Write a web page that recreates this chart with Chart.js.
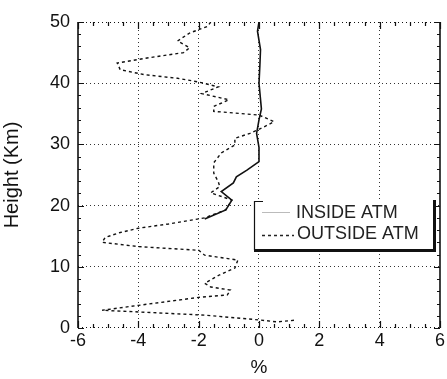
<!DOCTYPE html>
<html><head><meta charset="utf-8">
<script src="https://cdn.jsdelivr.net/npm/chart.js@4/dist/chart.umd.min.js"></script>
<style>html,body{margin:0;padding:0;background:#fff}#wrap{width:447px;height:379px}</style>
</head><body><div id="wrap"><canvas id="c" width="447" height="379"></canvas></div>
<script>
// Series: OUTSIDE ATM (dashed)
const outsideHeight = [50,49.3,48.2,46.9,45.8,45.0,44.2,43.3,42.2,41.4,40.8,40.2,39.4,38.3,37.3,36.2,35.4,34.8,33.7,32.7,31.8,31.0,29.9,28.6,27.0,25.3,23.9,23.1,22.1,20.9,19.3,18.0,17.0,16.3,15.6,14.8,14.0,13.3,12.7,11.9,11.1,9.8,8.7,7.3,6.7,6.2,5.4,5.0,3.7,2.9,2.6,2.1,1.3,1.0,1.3];
const outsideValue  = [-1.6,-1.7,-2.3,-2.7,-2.3,-2.5,-3.6,-4.7,-4.6,-3.8,-2.7,-2.0,-1.35,-1.9,-1.0,-1.5,-1.5,0.0,0.5,0.1,-0.3,-0.8,-0.8,-1.25,-1.5,-1.5,-1.35,-1.3,-1.6,-0.9,-1.1,-1.8,-3.0,-4.0,-4.6,-5.1,-5.2,-4.0,-2.0,-1.8,-0.7,-0.8,-1.3,-1.8,-1.6,-0.95,-1.05,-2.0,-4.0,-5.2,-3.9,-1.8,0.05,0.6,1.25];
// Series: INSIDE ATM (solid)
const insideHeight = [50,48.5,45.5,43,40,35.8,34,31.8,29.5,27.2,25.8,24.7,23.7,22.3,20.9,19.3,17.8];
const insideValue  = [0,-0.05,0.05,0.03,0,0.08,0,-0.08,0,0,-0.4,-0.75,-0.85,-1.25,-0.9,-1.1,-1.8];
const seriesNames = ['INSIDE ATM','OUTSIDE ATM'];
const xTicks = [-6,-4,-2,0,2,4,6];
const yTicks = [0,10,20,30,40,50];

const FONT = '"Liberation Sans", Arial, Helvetica, sans-serif';
const toPts = (h, v) => h.map((y, i) => ({x: v[i], y}));

const framePlugin = {
  id: 'frame',
  afterDraw(chart) {
    const {ctx, chartArea: a, scales: {x, y}} = chart;
    ctx.save();
    ctx.strokeStyle = '#111';
    ctx.lineWidth = 1.6;
    ctx.beginPath();
    ctx.moveTo(a.left, a.top); ctx.lineTo(a.left, a.bottom);
    ctx.moveTo(a.right, a.top); ctx.lineTo(a.right, a.bottom);
    ctx.stroke();
    ctx.lineWidth = 1;
    ctx.setLineDash([1, 3]);
    ctx.beginPath();
    ctx.moveTo(a.left, a.top + 0.5); ctx.lineTo(a.right, a.top + 0.5);
    ctx.moveTo(a.left, a.bottom - 0.5); ctx.lineTo(a.right, a.bottom - 0.5);
    ctx.stroke();
    ctx.setLineDash([]);
    ctx.lineWidth = 1.2;
    ctx.beginPath();
    for (let v = x.min; v <= x.max + 1e-9; v += 0.5) {
      const px = Math.round(x.getPixelForValue(v)) + 0.5;
      const len = (Math.abs(v % 2) < 1e-9) ? 7 : 4;
      ctx.moveTo(px, a.top); ctx.lineTo(px, a.top + len);
      ctx.moveTo(px, a.bottom); ctx.lineTo(px, a.bottom - len);
    }
    for (let v = y.min; v <= y.max + 1e-9; v += 2) {
      const py = Math.round(y.getPixelForValue(v)) + 0.5;
      const len = (Math.abs(v % 10) < 1e-9) ? 6 : 3;
      ctx.moveTo(a.left, py); ctx.lineTo(a.left + len, py);
      ctx.moveTo(a.right, py); ctx.lineTo(a.right - len, py);
    }
    ctx.stroke();

    // legend box with shadow
    const L = 254, T = 201, R = 433, B = 250;
    ctx.fillStyle = '#fff';
    ctx.fillRect(L, T, R - L, B - T);
    ctx.lineWidth = 1.2;
    ctx.strokeStyle = '#111';
    ctx.beginPath();
    ctx.moveTo(L + 0.5, B); ctx.lineTo(L + 0.5, T + 0.5); ctx.lineTo(L + 9, T + 0.5);
    ctx.stroke();
    ctx.fillStyle = '#111';
    ctx.fillRect(L, B - 1, R - L + 3, 3);
    ctx.fillRect(R, T - 1, 3, B - T + 3);
    ctx.strokeStyle = '#bbb';
    ctx.lineWidth = 1;
    ctx.beginPath(); ctx.moveTo(262, 212.5); ctx.lineTo(290, 212.5); ctx.stroke();
    ctx.strokeStyle = '#222';
    ctx.setLineDash([3, 3]);
    ctx.lineWidth = 1.3;
    ctx.beginPath(); ctx.moveTo(262, 235.5); ctx.lineTo(294, 235.5); ctx.stroke();
    ctx.setLineDash([]);
    ctx.fillStyle = '#222';
    ctx.font = '18px ' + FONT;
    ctx.textBaseline = 'middle';
    ctx.textAlign = 'left';
    ctx.fillText(seriesNames[0], 296, 213);
    ctx.fillText(seriesNames[1], 297, 234);
    ctx.restore();
  }
};

new Chart(document.getElementById('c'), {
  type: 'scatter',
  data: {
    datasets: [
      {label: seriesNames[0], data: toPts(insideHeight, insideValue), showLine: true,
       borderColor: '#111', borderWidth: 1.6, pointRadius: 0, tension: 0},
      {label: seriesNames[1], data: toPts(outsideHeight, outsideValue), showLine: true,
       borderColor: '#111', borderWidth: 1.4, borderDash: [3, 3], pointRadius: 0, tension: 0}
    ]
  },
  options: {
    responsive: false, animation: false,
    layout: {padding: {top: 22, right: 6, left: 0, bottom: 0}},
    plugins: {legend: {display: false}, tooltip: {enabled: false}},
    scales: {
      x: {
        type: 'linear', min: -6, max: 6,
        afterBuildTicks: s => { s.ticks = xTicks.map(v => ({value: v})); },
        afterFit: s => { s.height = 51; },
        ticks: {color: '#111', font: {family: FONT, size: 18}, padding: 2, maxRotation: 0},
        grid: {color: c => (c.tick && (c.tick.value === -6 || c.tick.value === 6)) ? 'rgba(0,0,0,0)' : '#333',
               lineWidth: 1, drawTicks: false},
        border: {display: false, dash: [1, 3]},
        title: {display: true, text: '%', color: '#111', font: {family: FONT, size: 19}, padding: {top: 7, bottom: 0}}
      },
      y: {
        type: 'linear', min: 0, max: 50,
        afterBuildTicks: s => { s.ticks = yTicks.map(v => ({value: v})); },
        afterFit: s => { s.width = 78; },
        ticks: {color: '#111', font: {family: FONT, size: 18}, padding: 8},
        grid: {color: c => (c.tick && (c.tick.value === 0 || c.tick.value === 50)) ? 'rgba(0,0,0,0)' : '#333',
               lineWidth: 1, drawTicks: false},
        border: {display: false, dash: [1, 3]},
        title: {display: true, text: 'Height (Km)', color: '#111', font: {family: FONT, size: 20}, padding: {top: 0, bottom: 2}}
      }
    }
  },
  plugins: [framePlugin]
});
</script>
</body></html>
